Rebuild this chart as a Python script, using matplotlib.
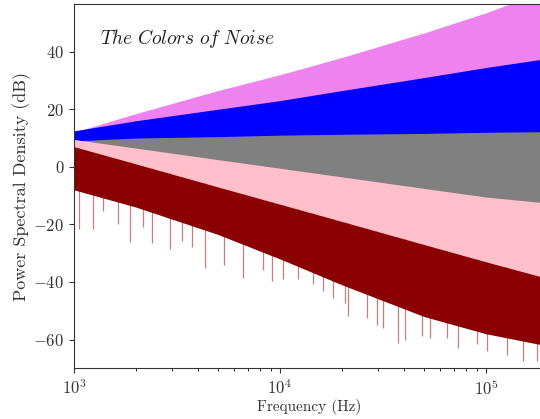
import numpy as np
import matplotlib
matplotlib.use('Agg')
import matplotlib.pyplot as plt

# Computer Modern look
plt.rcParams['font.family'] = 'cmr10'
plt.rcParams['mathtext.fontset'] = 'cm'
plt.rcParams['axes.formatter.use_mathtext'] = True

# Envelope knots of each noise spectrum (dB)
freqs = [1e3, 2e3, 5e3, 1e4, 2e4, 5e4, 1e5, 1.92e5]

violet_top = [12, 18.5, 26.5, 32, 38, 46.5, 53.5, 61]
violet_bottom = [5, 8, 12, 15, 18, 22, 25, 28]
blue_top = [12.5, 16, 20, 23, 26.5, 31, 34.5, 37.5]
blue_bottom = [2, 2, 3, 3, 4, 4, 5, 5]
white_top = [9, 10, 10.5, 11, 11.3, 11.6, 12, 12.2]
white_bottom = [1.5, -1.5, -5.5, -8.5, -11.5, -15.5, -18.5, -20.5]
pink_top = [9.5, 6.5, 2.5, -0.5, -3.5, -7.5, -10.5, -12.5]
pink_bottom = [1, -5, -13, -19, -25, -33, -39, -44.5]
brown_top = [7, 1, -7, -13, -19, -27, -33, -38.5]
brown_bottom = [-8, -14, -23.5, -32, -41, -52, -58, -62]

# Deepest downward spikes of the brown spectrum
spike_freqs = [1.06e3, 1.24e3, 1.38e3, 1.64e3, 1.87e3, 2.16e3, 2.38e3, 2.92e3,
               3.33e3, 3.73e3, 4.32e3, 5.35e3, 6.61e3, 8.27e3, 9.12e3, 1.035e4,
               1.22e4, 1.45e4, 1.62e4, 1.81e4, 2.07e4, 2.14e4, 2.64e4, 2.95e4,
               3.16e4, 3.74e4, 4.05e4, 4.87e4, 5.35e4, 6.45e4, 7.34e4, 9.01e4,
               1.007e5, 1.26e5, 1.52e5, 1.76e5]
spike_db = [-21.7, -21.7, -15.3, -19.9, -26, -21, -26.4, -28.5,
            -25.8, -28, -35, -34, -38.6, -36, -39.7, -39,
            -39, -40.8, -43.2, -45.5, -47.3, -51.9, -52.5, -54.8,
            -56, -61.2, -60, -58.9, -59.5, -59.5, -63, -61.7,
            -64, -65.3, -67.6, -67.6]

bands = [
    (violet_bottom, violet_top, 'violet'),
    (blue_bottom, blue_top, 'blue'),
    (white_bottom, white_top, 'gray'),
    (pink_bottom, pink_top, 'pink'),
]

fig = plt.figure(figsize=(5.4, 4.19), dpi=100)
ax = fig.add_axes([0.137, 0.121, 0.871, 0.869])
ax.set_xscale('log')

for lo, hi, color in bands:
    ax.fill_between(freqs, lo, hi, color=color, linewidth=0)

# spikes run from their tip up into the brown band
spike_top = np.interp(np.log10(spike_freqs), np.log10(freqs), brown_top)
ax.vlines(spike_freqs, spike_db, spike_top, color='darkred', alpha=0.5, linewidth=0.9)
ax.fill_between(freqs, brown_bottom, brown_top, color='darkred', linewidth=0)

ax.set_xlim(1e3, 1.92e5)
ax.set_ylim(-70, 56.5)
ax.set_yticks([-60, -40, -20, 0, 20, 40])

ax.set_xlabel('Frequency (Hz)', fontsize=11, color='#333333', labelpad=1)
ax.set_ylabel('Power Spectral Density (dB)', fontsize=13, color='#333333', labelpad=2)
ax.tick_params(labelsize=12, labelcolor='#333333', colors='#333333')
for side in ['left', 'bottom', 'top', 'right']:
    ax.spines[side].set_color('#333333')

ax.text(0.055, 0.905, r'$\mathit{The\ Colors\ of\ Noise}$', transform=ax.transAxes,
        fontsize=14, color='#222222', va='center', ha='left')

fig.savefig('out.png', dpi=100)
